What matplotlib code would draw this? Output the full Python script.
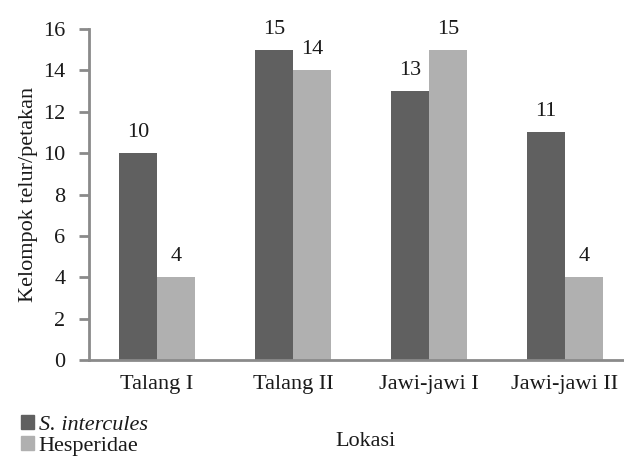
import matplotlib.pyplot as plt
import numpy as np
from matplotlib.patches import Patch

plt.rcParams["font.family"] = ["Liberation Serif", "DejaVu Serif"]

lokasi = ["Talang I", "Talang II", "Jawi-jawi I", "Jawi-jawi II"]
s_intercules = [10, 15, 13, 11]
hesperidae = [4, 14, 15, 4]

dark = "#606060"
light = "#b0b0b0"
axis_col = "#8a8a8a"
txt = "#1a1a1a"
fs = 16

fig = plt.figure(figsize=(6.24, 4.63), dpi=100)
# axes deliberately run past the right edge of the figure
ax = fig.add_axes([89 / 624, 1 - 360 / 463, 544 / 624, 331 / 463])

x = np.arange(len(lokasi))
w = 0.283
b1 = ax.bar(x - w / 2, s_intercules, w, color=dark)
b2 = ax.bar(x + w / 2, hesperidae, w, color=light)

for bars, vals in ((b1, s_intercules), (b2, hesperidae)):
    for bar, v in zip(bars, vals):
        ax.annotate(str(v), (bar.get_x() + bar.get_width() / 2, v),
                    xytext=(0, 8), textcoords="offset points",
                    ha="center", va="bottom", fontsize=fs, color=txt)

ax.set_xlim(-0.5, len(lokasi) - 0.5)
ax.set_ylim(0, 16)
ax.set_yticks(range(0, 17, 2))
ax.set_xticks(x)
ax.set_xticklabels(lokasi)

for side in ("top", "right"):
    ax.spines[side].set_visible(False)
for side in ("left", "bottom"):
    ax.spines[side].set_color(axis_col)
    ax.spines[side].set_linewidth(2)
ax.tick_params(axis="y", length=7, width=2, color=axis_col, labelsize=fs,
               pad=10, labelcolor=txt)
ax.tick_params(axis="x", length=0, labelsize=fs, pad=11, labelcolor=txt)

ax.set_ylabel("Kelompok telur/petakan", fontsize=fs, color=txt, labelpad=4)
fig.text(365 / 624, 1 - 442 / 463, "Lokasi", ha="center", va="center",
         fontsize=fs, color=txt)

handles = [Patch(color=dark), Patch(color=light)]
leg = fig.legend(handles, ["S. intercules", "Hesperidae"],
                 loc="upper left", bbox_to_anchor=(21 / 624, 1 - 415 / 463),
                 frameon=False, fontsize=fs, handlelength=0.6,
                 handleheight=0.6, handletextpad=0.2, labelspacing=0.05,
                 borderpad=0, borderaxespad=0)
leg.get_texts()[0].set_style("italic")
for t in leg.get_texts():
    t.set_color(txt)

fig.savefig("out.png", dpi=100)
